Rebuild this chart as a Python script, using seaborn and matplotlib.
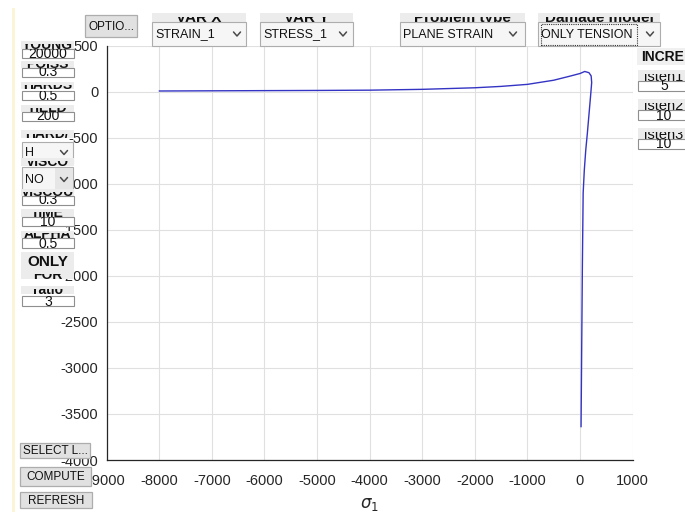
import matplotlib
matplotlib.use("Agg")
import matplotlib.pyplot as plt
import numpy as np
import pandas as pd
import seaborn as sns
from matplotlib.patches import Rectangle
from matplotlib.lines import Line2D
from matplotlib.transforms import Bbox, TransformedBbox

# ---- data ----
sigma1 = [-8000, -7000, -6000, -5000, -4000, -3000, -2000, -1500, -1000, -500,
          -200, 0, 90, 170, 212, 222, 205, 140, 110, 82, 60, 45, 32, 20]
var_y = [8, 10, 12, 14, 17, 26, 43, 58, 80, 125,
         168, 198, 220, 207, 172, 100, -20, -450, -630, -850, -1100, -1900, -2800, -3640]
x_ticks = [-9000, -8000, -7000, -6000, -5000, -4000, -3000, -2000, -1000, 0, 1000]
y_ticks = [-4000, -3500, -3000, -2500, -2000, -1500, -1000, -500, 0, 500]

W, H = 685, 514
sns.set_theme(style="white")
plt.rcParams['font.family'] = ['Liberation Sans', 'DejaVu Sans']

fig = plt.figure(figsize=(W / 100, H / 100), dpi=100)
fig.patch.set_facecolor('white')

ax = fig.add_axes([106.6 / W, 1 - 460 / H, 526 / W, (460 - 45.7) / H])
ax.set_facecolor('white')
df = pd.DataFrame({'sigma1': sigma1, 'y': var_y})
sns.lineplot(data=df, x='sigma1', y='y', sort=False, estimator=None,
             color='#3434c4', lw=1.0, ax=ax)
ax.set_xlim(-9000, 1000)
ax.set_ylim(-4000, 500)
ax.set_xticks(x_ticks)
ax.set_yticks(y_ticks)
ax.set_xticklabels([str(v) for v in x_ticks])
ax.set_yticklabels([str(v) for v in y_ticks])
ax.grid(True, color='#e0e0e0', lw=0.8)
ax.set_axisbelow(True)
for s in ['top', 'right']:
    ax.spines[s].set_visible(False)
for s in ['left', 'bottom']:
    ax.spines[s].set_color('#262626')
    ax.spines[s].set_linewidth(0.9)
ax.tick_params(direction='in', length=5, width=0.8, colors='#262626',
               labelsize=10.5, labelcolor='#262626')
ax.tick_params(axis='x', pad=10)
ax.tick_params(axis='y', pad=6)
ax.set_ylabel('')
ax.set_xlabel(r'$\sigma_1$', fontsize=12, color='#262626')
ax.xaxis.set_label_coords(0.5, (460 - 496) / (460 - 45.7))


# ---- GUI widgets ----
zc = [5]


def nz():
    zc[0] += 0.1
    return zc[0]


def rect(x0, y0, x1, y1, fc, ec='none', lw=0.8, ls='-'):
    r = Rectangle((x0 / W, 1 - y1 / H), (x1 - x0) / W, (y1 - y0) / H,
                  transform=fig.transFigure, facecolor=fc, edgecolor=ec,
                  lw=lw, ls=ls, zorder=nz())
    fig.add_artist(r)
    return r


def text(x, y, s, clip=None, **kw):
    t = fig.text(x / W, 1 - y / H, s, zorder=nz(), **kw)
    if clip is not None:
        x0, y0, x1, y1 = clip
        bb = Bbox([[x0 / W, 1 - y1 / H], [x1 / W, 1 - y0 / H]])
        t.set_clip_box(TransformedBbox(bb, fig.transFigure))
        t.set_clip_on(True)
    return t


def chevron(cx, cy, c='#4a4a4a'):
    xs = [cx - 3.5, cx, cx + 3.5]
    ys = [cy - 2, cy + 2, cy - 2]
    ln = Line2D([v / W for v in xs], [1 - v / H for v in ys],
                transform=fig.transFigure, color=c, lw=1.1, zorder=nz())
    fig.add_artist(ln)


def label(x0, y0, x1, y1, s, size=10, weight='bold', clip_top=None):
    rect(x0, y0, x1, y1, '#ececec')
    ct = y0 if clip_top is None else clip_top
    text((x0 + x1) / 2, y1, s, clip=(x0, ct, x1, y1), ha='center',
         va='baseline', fontsize=size, fontweight=weight, color='#111111')


def edit(x0, y0, x1, y1, s, size=10):
    rect(x0, y0, x1, y1, 'white', ec='#8f8f8f', lw=0.8)
    text((x0 + x1) / 2, y1 - 0.5, s, clip=(x0, y0, x1, y1), ha='center',
         va='baseline', fontsize=size, color='#111111')


def button(x0, y0, x1, y1, s, size=8.5):
    rect(x0, y0, x1, y1, '#e1e1e1', ec='#adadad', lw=0.9)
    text((x0 + x1) / 2, (y0 + y1) / 2 + 0.5, s, clip=(x0, y0, x1, y1),
         ha='center', va='center', fontsize=size, color='#111111')


def popup(x0, y0, x1, y1, s, size=9, arrow_x=None):
    rect(x0, y0, x1, y1, '#f6f6f6', ec='#adadad', lw=0.8)
    text(x0 + 3, (y0 + y1) / 2 + 0.5, s, clip=(x0, y0, x1, y1),
         ha='left', va='center', fontsize=size, color='#111111')
    ax_ = arrow_x if arrow_x is not None else x1 - 9
    chevron(ax_, (y0 + y1) / 2)


# yellowish strip at left
rect(12, 8, 15, 512, '#fbf5d8')

# top row
button(85, 15, 137, 37, 'OPTIO...')
label(152, 13, 246, 22, 'VAR X', size=11, clip_top=17)
popup(152, 22, 246, 46, 'STRAIN_1', arrow_x=237)
label(260, 13, 353, 22, 'VAR Y', size=11, clip_top=17)
popup(260, 22, 353, 46, 'STRESS_1', arrow_x=343)
label(400, 13, 525, 22, 'Problem type', size=11, clip_top=17)
popup(400, 22, 525, 46, 'PLANE STRAIN', arrow_x=513)
label(538, 13, 660, 22, 'Damage model', size=11, clip_top=17)
popup(538, 22, 660, 46, 'ONLY TENSION', arrow_x=650)
rect(540.5, 24, 637, 44.5, 'none', ec='#333333', lw=0.8, ls=(0, (1, 1)))

# right column
rect(637, 48, 685, 65, '#f0f0f0')
text(641, 57, 'INCRE', ha='left', va='center', fontsize=10,
     fontweight='bold', color='#111111')
for i, (ly, val) in enumerate([(70, '5'), (99, '10'), (128, '10')]):
    label(638, ly, 690, ly + 11, 'isten%d' % (i + 1), size=10.5,
          weight='normal', clip_top=ly + 4)
    edit(638, ly + 11, 690, ly + 21, val)

# left column
label(21, 41, 74, 49, 'YOUNG', clip_top=43.5)
edit(22, 49, 74, 58, '20000')
label(21, 61, 74, 68, 'POISS', clip_top=63.5)
edit(22, 68, 74, 77, '0.3')
label(21, 82, 74, 89, 'HARDS', clip_top=84.5)
edit(22, 91, 74, 100, '0.5')
label(21, 105, 74, 112, 'YIELD', clip_top=107.5)
edit(22, 112, 74, 121, '200')
label(21, 130, 74, 138, 'HARD/', clip_top=133.5)
popup(22, 142, 73, 163, 'H', arrow_x=64)
label(21, 158, 74, 166, 'VISCO', clip_top=160.5)
popup(22, 167, 73, 192, 'NO', arrow_x=64)
rect(55, 168, 72.5, 191.5, '#e6e6e6')
chevron(64, 179.5)
label(21, 189, 74, 196, 'VISCOU', clip_top=191.5)
edit(22, 196, 74, 205, '0.3')
label(21, 209, 74, 217, 'TIME', clip_top=211.5)
edit(22, 217, 74, 226, '10')
label(21, 231, 74, 238, 'ALPHA', clip_top=233.5)
edit(22, 238, 74, 248, '0.5')
rect(21, 252, 74, 271, '#ececec')
text(47.5, 262, 'ONLY', ha='center', va='center', fontsize=11,
     fontweight='bold', color='#111111')
label(21, 271, 74, 279, 'FOR', clip_top=274)
label(21, 286, 74, 294, 'ratio', clip_top=288.5)
edit(22, 296, 74, 306, '3')

# bottom buttons
button(20, 443, 90, 458, 'SELECT L...')
button(20, 467, 91, 486, 'COMPUTE')
button(20, 492, 92, 508, 'REFRESH')

fig.savefig('out.png', dpi=100, facecolor='white')
